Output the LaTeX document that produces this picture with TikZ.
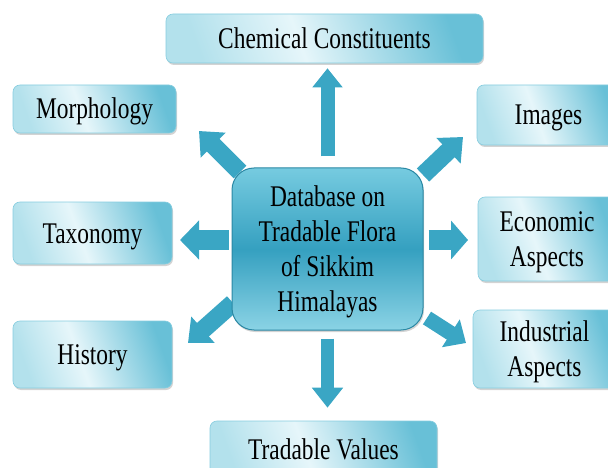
\documentclass[tikz,border=0pt]{standalone}
\usepackage{fontspec}
\setmainfont{Liberation Serif}
\usepackage{graphicx}
\usetikzlibrary{arrows.meta, shadows, backgrounds}

\definecolor{boxlight}{HTML}{E6F6FA}
\definecolor{boxmid}{HTML}{B3E1EC}
\definecolor{boxdark}{HTML}{68C0D7}
\definecolor{hubtop}{HTML}{76CBE0}
\definecolor{hubmid}{HTML}{35A0C0}
\definecolor{hubedge}{HTML}{2A88A4}
\definecolor{arrowfill}{HTML}{3AA6C4}

\pgfdeclarehorizontalshading{boxshade}{100bp}{color(0bp)=(boxmid); color(25bp)=(boxmid); color(45bp)=(boxlight); color(75bp)=(boxdark); color(100bp)=(boxdark)}

\newcommand\lbl[1]{\raisebox{-3pt}[\height][\depth]{\scalebox{0.78}[1]{\begin{tabular}{@{}c@{}}#1\end{tabular}}}}

\begin{document}
\begin{tikzpicture}[x=1pt, y=-1pt,
    topic/.style={draw=boxdark!80, line width=0.6pt, rounded corners=7pt,
        shading=boxshade, shading angle=20, inner sep=0pt,
        drop shadow={shadow xshift=1pt, shadow yshift=-2pt, opacity=0.35},
        font=\fontsize{30}{35}\selectfont},
    fatarrow/.style n args={3}{draw=arrowfill, line width=#1,
        -{Triangle[width=#2, length=#3]}}]
    \useasboundingbox (0,0) rectangle (608,468);

    \node[draw=hubedge, line width=1pt, rounded corners=22pt,
        top color=hubtop, bottom color=hubtop!85, middle color=hubmid,
        minimum width=191pt, minimum height=162pt, inner sep=0pt,
        drop shadow={shadow xshift=1pt, shadow yshift=-2pt, opacity=0.35},
        font=\fontsize{30}{35}\selectfont] (hub) at (327.5,249)
        {\lbl{Database on\\Tradable Flora\\of Sikkim\\Himalayas}};

    \node[topic, minimum width=317pt, minimum height=49pt] (chem) at (324.5,38.5) {\lbl{Chemical Constituents}};
    \node[topic, minimum width=163pt, minimum height=48pt] (morph) at (94.5,109) {\lbl{Morphology}};
    \node[topic, minimum width=143pt, minimum height=60pt] (images) at (548.5,115) {\lbl{Images}};
    \node[topic, minimum width=159pt, minimum height=62pt] (taxo) at (92.5,233) {\lbl{Taxonomy}};
    \node[topic, minimum width=138pt, minimum height=84pt] (econ) at (547,239) {\lbl{Economic\\Aspects}};
    \node[topic, minimum width=159pt, minimum height=67pt] (hist) at (92.5,354.5) {\lbl{History}};
    \node[topic, minimum width=143pt, minimum height=78pt] (indus) at (544.5,349) {\lbl{Industrial\\Aspects}};
    \node[topic, minimum width=227pt, minimum height=56pt] (trade) at (323.5,449) {\lbl{Tradable Values}};

    % arrow ends that do not sit on a box
    \coordinate (taxoTip) at (180,240);
    \coordinate (econTip) at (468,240);
    \coordinate (morphTail) at (240,172);
    \coordinate (morphTip) at (199,131);
    \coordinate (imagesTail) at (423,175);
    \coordinate (imagesTip) at (463,137);
    \coordinate (histTail) at (233,303);
    \coordinate (histTip) at (188,343);
    \coordinate (indusTail) at (427,318);
    \coordinate (indusTip) at (466,343);

    \begin{scope}[on background layer]
        \draw[fatarrow={14pt}{29pt}{19pt}, shorten <=11pt, shorten >=5pt] (hub.north) -- (hub.north |- chem.south);
        \draw[fatarrow={13pt}{30pt}{20pt}, shorten <=8pt, shorten >=13pt] (hub.south) -- (hub.south |- trade.north);
        \draw[fatarrow={20pt}{38pt}{19pt}, shorten <=3pt] (hub.west |- taxoTip) -- (taxoTip);
        \draw[fatarrow={20pt}{38pt}{17pt}, shorten <=5pt] (hub.east |- econTip) -- (econTip);
        \draw[fatarrow={18pt}{34pt}{20pt}] (morphTail) -- (morphTip);
        \draw[fatarrow={18pt}{34pt}{20pt}] (imagesTail) -- (imagesTip);
        \draw[fatarrow={18pt}{34pt}{20pt}] (histTail) -- (histTip);
        \draw[fatarrow={15pt}{32pt}{18pt}] (indusTail) -- (indusTip);
    \end{scope}
\end{tikzpicture}
\end{document}
